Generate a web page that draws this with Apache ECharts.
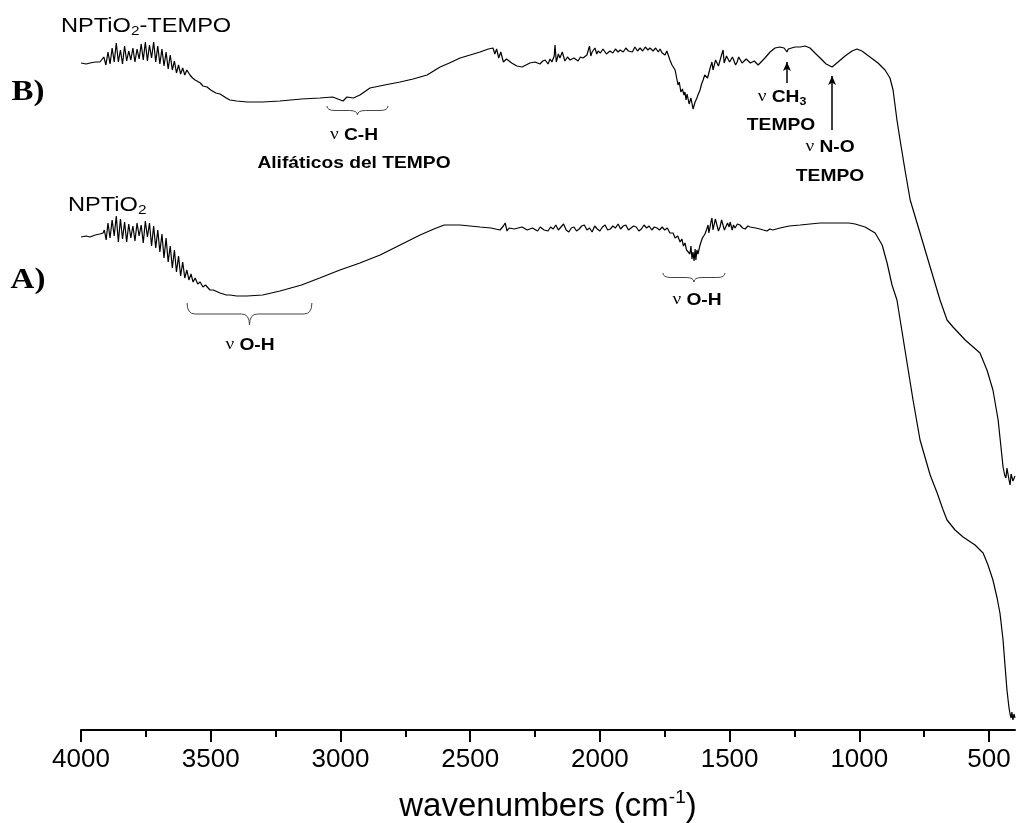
<!DOCTYPE html>
<html>
<head>
<meta charset="utf-8">
<script src="https://cdn.jsdelivr.net/npm/echarts@6/dist/echarts.min.js"></script>
<style>
html, body { margin: 0; padding: 0; background: #fff; }
#chart { width: 1016px; height: 823px; }
</style>
</head>
<body>
<div id="chart"></div>
<script>
// IR spectra, [wavenumber (cm-1), transmittance (a.u., curves offset)]
var spectrumA = [ // NPTiO2
  [4000,493],[3980,494],[3965,493],[3945,495],[3927,496],[3915,497],[3910,500],[3903,490],[3896,507],[3888,492],
  [3880,510],[3872,494],[3864,514],[3856,488],[3848,511],[3840,491],[3832,508],[3824,488],[3816,506],[3808,492],
  [3800,504],[3792,489],[3784,507],[3776,494],[3768,505],[3760,487],[3752,509],[3744,493],[3736,507],[3728,484],
  [3720,504],[3712,482],[3704,500],[3696,478],[3688,496],[3680,472],[3672,492],[3664,468],[3656,484],[3648,462],
  [3640,480],[3632,458],[3624,474],[3616,454],[3608,468],[3600,452],[3592,460],[3584,450],[3576,456],[3568,448],
  [3560,452],[3550,446],[3541,448],[3530,443],[3520,445],[3503,440],[3490,440],[3464,437],[3440,435],[3426,435],
  [3400,434],[3360,434],[3300,435],[3233,439],[3150,445],[3080,452],[3002,460],[2925,467],[2847,475],[2770,485],
  [2693,495],[2640,501],[2600,505],[2539,505],[2462,503],[2420,502],[2385,500],[2372,504],[2365,507],[2358,499],
  [2350,502],[2330,501],[2300,503],[2280,500],[2260,502],[2240,499],[2230,503],[2215,500],[2200,499],[2190,503],
  [2180,501],[2170,505],[2160,500],[2150,503],[2140,506],[2130,500],[2120,498],[2110,502],[2100,503],[2090,499],
  [2080,501],[2070,504],[2060,505],[2050,500],[2040,502],[2030,498],[2020,504],[2010,501],[2000,499],[1990,503],
  [1980,505],[1970,500],[1960,501],[1950,504],[1940,502],[1930,506],[1920,501],[1910,504],[1900,505],[1890,500],
  [1880,502],[1870,504],[1860,503],[1850,499],[1840,501],[1830,505],[1820,502],[1810,504],[1800,500],[1790,503],
  [1780,502],[1770,500],[1760,503],[1750,500],[1740,502],[1730,497],[1718,497],[1710,492],[1700,494],[1691,488],
  [1684,491],[1678,484],[1672,487],[1666,480],[1660,482],[1653,476],[1649,484],[1645,471],[1641,478],[1637,469],
  [1633,481],[1630,470],[1626,480],[1622,476],[1614,485],[1605,492],[1595,496],[1588,501],[1583,505],[1580,497],
  [1576,498],[1572,508],[1568,512],[1564,500],[1560,502],[1555,511],[1548,510],[1543,499],[1537,503],[1531,510],
  [1525,512],[1520,500],[1514,502],[1508,507],[1502,503],[1498,508],[1490,500],[1485,505],[1479,502],[1470,506],
  [1460,505],[1450,502],[1440,501],[1430,504],[1421,503],[1400,502],[1383,501],[1370,500],[1356,499],[1345,501],
  [1333,500],[1306,502],[1270,504],[1228,505],[1190,506],[1151,507],[1110,507],[1074,507],[1040,507],[1016,506],
  [978,503],[939,497],[912,485],[893,467],[874,445],[855,430],[824,380],[793,330],[766,290],[727,255],
  [700,237],[677,220],[662,210],[631,200],[600,193],[554,185],[523,177],[504,165],[485,150],[469,132],
  [458,117],[446,90],[438,63],[431,40],[423,22],[419,16],[415,12],[412,18],[408,10],[404,16],[400,12]
];

var spectrumB = [ // NPTiO2-TEMPO
  [4000,667],[3980,666],[3965,667],[3945,668],[3927,668],[3920,668],[3912,673],[3904,665],[3896,678],[3888,666],
  [3880,682],[3872,668],[3864,687],[3856,668],[3848,680],[3840,666],[3832,684],[3824,669],[3816,679],[3808,670],
  [3800,682],[3792,668],[3784,681],[3776,671],[3768,686],[3760,670],[3752,688],[3744,669],[3736,685],[3728,672],
  [3720,688],[3712,668],[3704,684],[3696,666],[3688,681],[3680,664],[3672,678],[3664,661],[3656,675],[3648,660],
  [3640,669],[3632,657],[3624,665],[3616,656],[3608,662],[3600,655],[3592,660],[3580,655],[3570,652],[3560,650],
  [3553,648],[3540,647],[3530,644],[3514,643],[3500,640],[3480,637],[3464,636],[3440,632],[3426,630],[3400,629],
  [3360,628],[3300,628],[3233,629],[3150,631],[3079,632],[3030,633],[3010,631],[2990,629],[2975,633],[2950,632],
  [2925,635],[2886,642],[2830,645],[2770,648],[2720,651],[2666,655],[2616,663],[2580,667],[2539,672],[2500,675],
  [2462,678],[2430,681],[2412,682],[2405,676],[2398,681],[2390,672],[2382,678],[2372,668],[2360,671],[2340,667],
  [2320,664],[2300,663],[2285,665],[2270,667],[2250,668],[2231,666],[2220,669],[2211,670],[2200,666],[2192,671],
  [2185,668],[2176,674],[2173,685],[2168,668],[2160,676],[2154,672],[2145,678],[2135,669],[2125,673],[2115,670],
  [2100,672],[2084,669],[2075,673],[2065,672],[2050,675],[2040,684],[2035,674],[2030,678],[2019,682],[2012,676],
  [2007,679],[1998,677],[1988,681],[1975,676],[1961,679],[1950,677],[1940,681],[1930,678],[1922,680],[1910,678],
  [1900,682],[1890,679],[1884,681],[1875,678],[1865,683],[1855,679],[1845,682],[1835,679],[1825,683],[1815,680],
  [1807,682],[1795,679],[1785,682],[1775,678],[1768,681],[1760,677],[1749,675],[1742,679],[1738,677],[1730,670],
  [1722,665],[1716,667],[1710,660],[1704,652],[1699,645],[1694,648],[1688,638],[1682,641],[1676,635],[1672,638],
  [1668,630],[1664,636],[1660,634],[1656,626],[1653,624],[1649,632],[1645,630],[1641,621],[1637,620],[1633,628],
  [1630,627],[1626,632],[1622,635],[1614,640],[1608,646],[1602,650],[1596,655],[1591,656],[1585,652],[1579,658],
  [1574,663],[1568,668],[1564,660],[1560,662],[1554,670],[1548,672],[1543,664],[1537,666],[1530,676],[1525,680],
  [1521,667],[1518,668],[1512,674],[1506,675],[1500,668],[1495,666],[1489,673],[1483,674],[1477,665],[1471,668],
  [1465,673],[1460,672],[1452,667],[1444,669],[1436,671],[1429,672],[1420,667],[1413,666],[1405,669],[1398,668],
  [1390,665],[1383,667],[1375,669],[1364,672],[1344,678],[1325,682],[1306,683],[1290,682],[1283,681],[1279,678],
  [1274,681],[1267,682],[1248,683],[1228,683],[1209,684],[1190,682],[1171,677],[1151,672],[1128,666],[1105,663],
  [1082,668],[1055,674],[1028,679],[1009,681],[990,679],[959,673],[928,667],[901,660],[882,652],[870,640],
  [855,610],[843,590],[824,560],[804,530],[766,497],[727,463],[689,430],[662,410],[639,403],[592,390],
  [535,377],[508,360],[485,340],[465,310],[446,263],[440,255],[435,252],[431,262],[427,260],[423,250],
  [419,245],[415,256],[412,258],[408,249],[404,248],[400,254]
];

var majorTicks = [500, 1000, 1500, 2000, 2500, 3000, 3500, 4000];
var minorTicks = [750, 1250, 1750, 2250, 2750, 3250, 3750];

// curly braces under bands: [from, to, top, tip]
var braces = [
  [3591, 3110, 427, 405],
  [3052, 2817, 624, 615],
  [1757, 1518, 457, 448]
];
// arrows pointing at bands: [wavenumber, from, to]
var arrows = [
  [1279, 647, 668],
  [1105, 600, 654]
];

var SANS = 'Liberation Sans';
var SERIF = 'Liberation Serif';

var rich = {
  s: { fontSize: 13, fontFamily: SANS, lineHeight: 13, verticalAlign: 'bottom', fill: '#000' },
  sb: { fontSize: 11, fontFamily: SANS, fontWeight: 'bold', lineHeight: 11, verticalAlign: 'bottom', fill: '#000' },
  nu: { fontSize: 17, fontFamily: SERIF, fill: '#000' }
};

function label(x, y, text, size, weight, family, align, sx) {
  return {
    type: 'text', x: x, y: y, scaleX: sx || 1.13, silent: true,
    style: {
      text: text, fontSize: size, fontWeight: weight || 'normal', fontFamily: family || SANS,
      fill: '#000', align: align || 'center', verticalAlign: 'middle',
      textAlign: align || 'center', textVerticalAlign: 'middle',
      lineHeight: size + 4, rich: rich
    }
  };
}

function renderBrace(params, api) {
  var a = api.coord([api.value(0), api.value(2)]);
  var b = api.coord([api.value(1), api.value(2)]);
  var c = api.coord([(api.value(0) + api.value(1)) / 2, api.value(3)]);
  var x1 = a[0], x2 = b[0], yt = a[1], xc = c[0], yc = c[1];
  var ym = (yt + yc) / 2;
  var r = Math.min(8, (x2 - x1) / 6);
  var d = 'M' + x1 + ' ' + yt +
    ' Q' + x1 + ' ' + ym + ' ' + (x1 + r) + ' ' + ym +
    ' L' + (xc - r) + ' ' + ym +
    ' Q' + xc + ' ' + ym + ' ' + xc + ' ' + yc +
    ' Q' + xc + ' ' + ym + ' ' + (xc + r) + ' ' + ym +
    ' L' + (x2 - r) + ' ' + ym +
    ' Q' + x2 + ' ' + ym + ' ' + x2 + ' ' + yt;
  return {
    type: 'path',
    shape: { pathData: d },
    style: { fill: null, stroke: '#444', lineWidth: 1 }
  };
}

var chart = echarts.init(document.getElementById('chart'));
var option = {
  animation: false,
  backgroundColor: '#fff',
  grid: { left: 81, right: 1, top: 30, bottom: 93, containLabel: false, outerBoundsMode: 'none' },
  xAxis: [
    {
      type: 'value', min: 400, max: 4000, inverse: true, position: 'bottom',
      axisLine: { show: true, onZero: false, lineStyle: { color: '#000', width: 2 } },
      axisTick: { show: true, customValues: majorTicks, length: 12, lineStyle: { color: '#000', width: 2 } },
      axisLabel: {
        customValues: majorTicks, fontSize: 26, fontFamily: SANS, color: '#000', margin: 17,
        formatter: function (v) { return String(v); }
      },
      splitLine: { show: false },
      name: 'wavenumbers (cm{sup|-1})',
      nameLocation: 'middle',
      nameGap: 58,
      nameTextStyle: {
        fontSize: 33, fontFamily: SANS, color: '#000', lineHeight: 38,
        rich: { sup: { fontSize: 19, fontFamily: SANS, color: '#000', lineHeight: 22, verticalAlign: 'top' } }
      }
    },
    {
      type: 'value', min: 400, max: 4000, inverse: true, position: 'bottom',
      axisLine: { show: false },
      axisTick: { show: true, customValues: minorTicks, length: 7, lineStyle: { color: '#000', width: 2 } },
      axisLabel: { show: false },
      splitLine: { show: false }
    }
  ],
  yAxis: { type: 'value', min: 0, max: 700, show: false },
  series: [
    {
      name: 'NPTiO2', type: 'line', data: spectrumA, symbol: 'none', silent: true,
      lineStyle: { color: '#000', width: 1.2 }
    },
    {
      name: 'NPTiO2-TEMPO', type: 'line', data: spectrumB, symbol: 'none', silent: true,
      lineStyle: { color: '#000', width: 1.2 },
      markLine: {
        silent: true, symbol: ['none', 'arrow'], symbolSize: [6, 9],
        lineStyle: { color: '#000', width: 1.5, type: 'solid' },
        label: { show: false },
        data: arrows.map(function (a) { return [{ coord: [a[0], a[1]] }, { coord: [a[0], a[2]] }]; })
      }
    },
    {
      type: 'custom', renderItem: renderBrace, data: braces, silent: true, clip: false
    }
  ],
  graphic: [
    label(61, 26, 'NPTiO{s|2}-TEMPO', 20, 'normal', SANS, 'left', 1.18),
    label(68, 205, 'NPTiO{s|2}', 20, 'normal', SANS, 'left', 1.18),
    label(28, 92, 'B)', 30, 'bold', SERIF, 'center', 1.1),
    label(28, 280, 'A)', 30, 'bold', SERIF, 'center', 1.1),
    label(354, 135, '{nu|ν} C-H', 17, 'bold'),
    label(354, 163, 'Alifáticos del TEMPO', 17, 'bold'),
    label(782, 97, '{nu|ν} CH{sb|3}', 17, 'bold'),
    label(781, 125, 'TEMPO', 17, 'bold'),
    label(830, 147, '{nu|ν} N-O', 17, 'bold'),
    label(830, 176, 'TEMPO', 17, 'bold'),
    label(250, 345, '{nu|ν} O-H', 17, 'bold'),
    label(697, 300, '{nu|ν} O-H', 17, 'bold')
  ]
};
chart.setOption(option);
</script>
</body>
</html>
